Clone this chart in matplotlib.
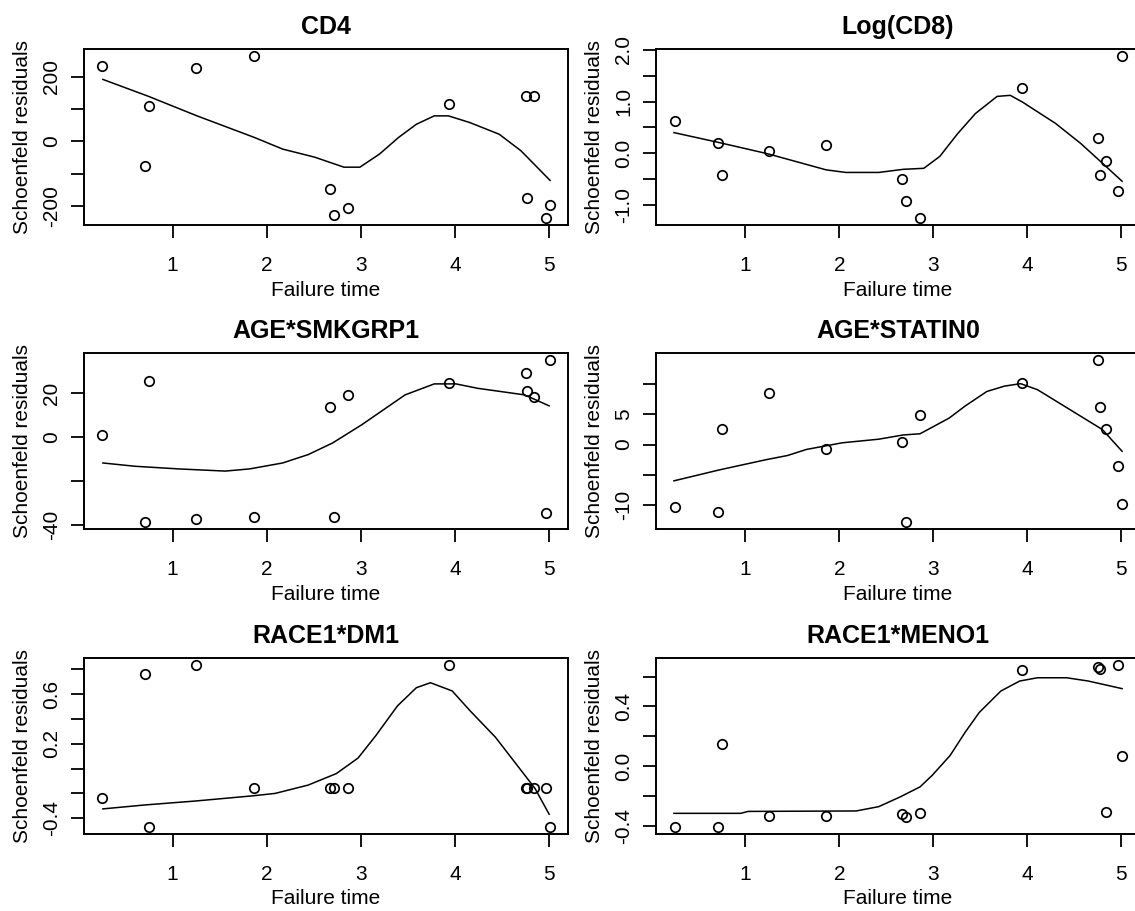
import matplotlib
matplotlib.use("Agg")
from matplotlib import pyplot as plt

plt.rcParams['font.family'] = ['Liberation Sans', 'DejaVu Sans']

# failure times shared by all panels
fail_time = [0.25, 0.71, 0.75, 1.25, 1.86, 2.67, 2.71, 2.86, 3.94, 4.75, 4.77, 4.84, 4.97, 5.01]

# schoenfeld residuals per covariate
cd4_res = [233, -75, 110, 228, 266, -149, -229, -205, 115, 140, -174, 140, -239, -198]
cd8_res = [0.63, 0.19, -0.42, 0.045, 0.16, -0.49, -0.92, -1.26, 1.27, 0.29, -0.42, -0.15, -0.72, 1.89]
smk_res = [0.9, -38.9, 25.4, -37.1, -36.2, 13.6, -36.2, 19.0, 24.5, 29.1, 21.1, 18.1, -34.4, 35.3]
statin_res = [-10.3, -11.2, 2.6, 8.5, -0.8, 0.5, -12.9, 4.9, 10.2, 14.1, 6.2, 2.6, -3.6, -9.9]
dm_res = [-0.235, 0.76, -0.475, 0.84, -0.155, -0.155, -0.155, -0.155, 0.84, -0.155, -0.155, -0.155, -0.155, -0.475]
meno_res = [-0.413, -0.413, 0.149, -0.333, -0.333, -0.324, -0.34, -0.318, 0.644, 0.667, 0.653, -0.307, 0.682, 0.067]

# smoothed curves
cd4_fit_t = [0.26, 0.74, 1.26, 1.87, 2.17, 2.51, 2.82, 2.99, 3.20, 3.40, 3.59, 3.78, 3.93, 4.16, 4.47, 4.70, 5.01]
cd4_fit = [192, 140, 79, 12, -24, -49, -80, -80, -39, 12, 53, 79, 79, 58, 22, -29, -121]
cd8_fit_t = [0.24, 0.715, 1.24, 1.86, 2.07, 2.42, 2.68, 2.90, 3.07, 3.26, 3.45, 3.68, 3.82, 3.95, 4.30, 4.57, 4.80, 5.01]
cd8_fit = [0.40, 0.21, -0.01, -0.32, -0.37, -0.37, -0.31, -0.29, -0.06, 0.38, 0.77, 1.10, 1.12, 0.99, 0.58, 0.19, -0.19, -0.54]
smk_fit_t = [0.26, 0.60, 1.06, 1.56, 1.82, 2.17, 2.44, 2.70, 3.01, 3.24, 3.47, 3.78, 4.01, 4.24, 4.74, 5.0]
smk_fit = [-11.8, -13.3, -14.5, -15.5, -14.5, -11.8, -8.0, -2.7, 5.6, 12.4, 19.2, 24.2, 24.2, 22.2, 19.2, 14.2]
statin_fit_t = [0.24, 0.72, 1.22, 1.45, 1.65, 2.03, 2.42, 2.68, 2.86, 3.17, 3.34, 3.57, 3.76, 3.93, 4.11, 4.34, 4.57, 4.80, 5.01]
statin_fit = [-6.0, -4.2, -2.5, -1.8, -0.8, 0.3, 0.9, 1.6, 1.8, 4.4, 6.4, 8.8, 9.7, 10.1, 9.1, 6.9, 4.7, 2.5, -1.1]
dm_fit_t = [0.26, 0.71, 1.25, 1.86, 2.09, 2.44, 2.74, 2.97, 3.16, 3.39, 3.59, 3.74, 3.97, 4.16, 4.43, 4.66, 4.85, 5.0]
dm_fit = [-0.325, -0.293, -0.261, -0.219, -0.2, -0.133, -0.04, 0.085, 0.267, 0.507, 0.653, 0.693, 0.627, 0.467, 0.253, 0.027, -0.16, -0.368]
meno_fit_t = [0.24, 0.95, 1.03, 2.18, 2.42, 2.65, 2.86, 2.99, 3.18, 3.34, 3.49, 3.72, 3.92, 4.11, 4.42, 4.65, 5.01]
meno_fit = [-0.318, -0.318, -0.305, -0.302, -0.273, -0.207, -0.14, -0.062, 0.071, 0.227, 0.36, 0.504, 0.571, 0.593, 0.593, 0.571, 0.52]

titles = ["CD4", "Log(CD8)", "AGE*SMKGRP1", "AGE*STATIN0", "RACE1*DM1", "RACE1*MENO1"]
residuals = [cd4_res, cd8_res, smk_res, statin_res, dm_res, meno_res]
fits_t = [cd4_fit_t, cd8_fit_t, smk_fit_t, statin_fit_t, dm_fit_t, meno_fit_t]
fits = [cd4_fit, cd8_fit, smk_fit, statin_fit, dm_fit, meno_fit]

y_ticks = [
    [-200, -100, 0, 100, 200],
    [-1.0, -0.5, 0.0, 0.5, 1.0, 1.5, 2.0],
    [-40, -20, 0, 20],
    [-10, -5, 0, 5, 10],
    [-0.4, -0.2, 0.0, 0.2, 0.4, 0.6, 0.8],
    [-0.4, -0.2, 0.0, 0.2, 0.4, 0.6],
]
y_labels = [
    ["-200", "", "0", "", "200"],
    ["-1.0", "", "0.0", "", "1.0", "", "2.0"],
    ["-40", "", "0", "20"],
    ["-10", "", "0", "5", ""],
    ["-0.4", "", "", "0.2", "", "0.6", ""],
    ["-0.4", "", "0.0", "", "0.4", ""],
]
x_ticks = [1, 2, 3, 4, 5]

W, H = 1135, 911
fig = plt.figure(figsize=(W / 100, H / 100), dpi=100)

box_w, box_h = 484, 176
lefts = [84, 656]
tops = [49, 353, 658]

for i in range(6):
    row, col = i // 2, i % 2
    ax = fig.add_axes([lefts[col] / W, 1 - (tops[row] + box_h) / H, box_w / W, box_h / H])
    ax.plot(fits_t[i], fits[i], color="black", lw=1.1)
    ax.plot(fail_time, residuals[i], "o", mfc="none", mec="black", ms=6.8, mew=1.25)
    ax.margins(x=0.04, y=0.04)

    ax.set_xticks(x_ticks)
    ax.set_yticks(y_ticks[i], labels=y_labels[i])
    ax.tick_params(axis="both", direction="out", length=9.5, width=1.3, labelsize=15)
    ax.tick_params(axis="x", pad=13)
    ax.tick_params(axis="y", pad=7, labelrotation=90)
    for lbl in ax.get_yticklabels():
        lbl.set_va("center")
    for sp in ax.spines.values():
        sp.set_linewidth(1.4)

    ax.set_xlabel("Failure time", fontsize=15, va="center")
    ax.xaxis.set_label_coords(0.5, -65 / box_h)
    ax.set_ylabel("Schoenfeld residuals", fontsize=15, va="center")
    ax.yaxis.set_label_coords(-62 / box_w, 0.5)
    ax.set_title(titles[i], fontsize=18, fontweight="bold", y=1 + 22 / box_h, va="center", pad=0)

fig.savefig("out.png", dpi=100)
